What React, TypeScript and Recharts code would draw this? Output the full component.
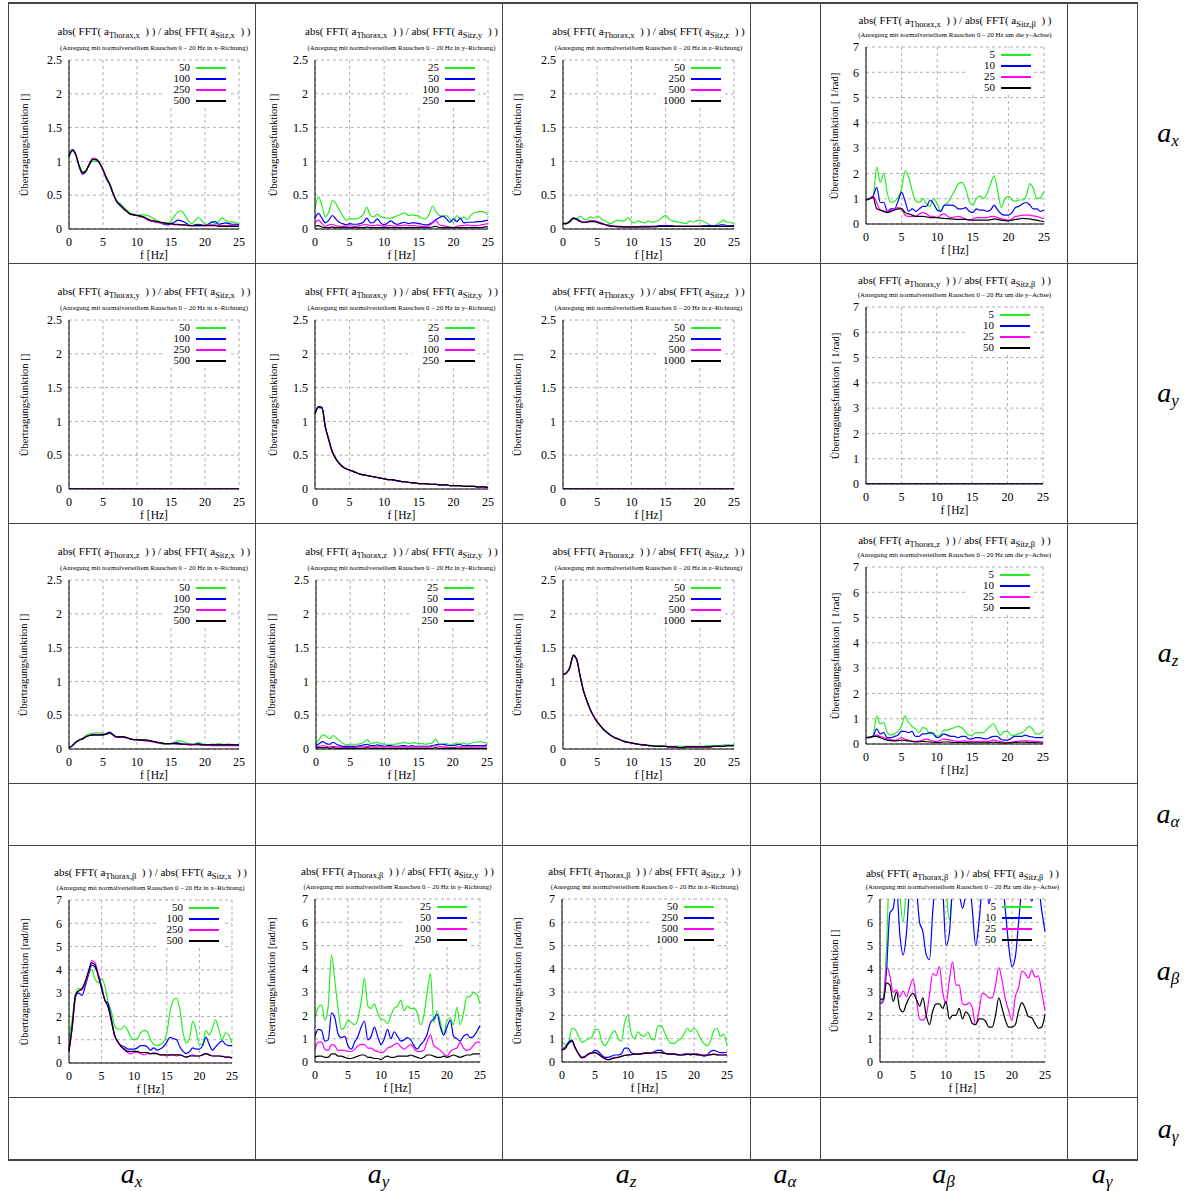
import React from "react";
import { CartesianGrid, Line, LineChart, XAxis, YAxis } from "recharts";

// frequency axis, 0..25 Hz
const freq = [
  0, 0.5, 1, 1.5, 2, 2.5, 3, 3.5, 4, 4.5,
  5, 5.5, 6, 6.5, 7, 7.5, 8, 8.5, 9, 9.5,
  10, 10.5, 11, 11.5, 12, 12.5, 13, 13.5, 14, 14.5,
  15, 15.5, 16, 16.5, 17, 17.5, 18, 18.5, 19, 19.5,
  20, 20.5, 21, 21.5, 22, 22.5, 23, 23.5, 24, 24.5,
  25
];

const zeros = [
  0, 0, 0, 0, 0, 0, 0, 0, 0, 0,
  0, 0, 0, 0, 0, 0, 0, 0, 0, 0,
  0, 0, 0, 0, 0, 0, 0, 0, 0, 0,
  0, 0, 0, 0, 0, 0, 0, 0, 0, 0,
  0, 0, 0, 0, 0, 0, 0, 0, 0, 0,
  0
];

// legend levels
const levelsX = ["50", "100", "250", "500"];
const levelsY = ["25", "50", "100", "250"];
const levelsZ = ["50", "250", "500", "1000"];
const levelsB = ["5", "10", "25", "50"];

const xTicks = [0, 5, 10, 15, 20, 25];
const yTicksSmall = [0, 0.5, 1, 1.5, 2, 2.5];
const yTicksBig = [0, 1, 2, 3, 4, 5, 6, 7];

// Thorax x / Sitz x
const tx_sx_50 = [
  1.05, 1.15, 1.10, 0.95, 0.85, 0.87, 0.95, 1.00, 1.00, 0.97,
  0.87, 0.73, 0.64, 0.52, 0.42, 0.38, 0.33, 0.28, 0.24, 0.22,
  0.21, 0.21, 0.21, 0.20, 0.18, 0.15, 0.12, 0.10, 0.09, 0.09,
  0.12, 0.19, 0.25, 0.27, 0.21, 0.13, 0.08, 0.12, 0.17, 0.13,
  0.07, 0.07, 0.11, 0.08, 0.11, 0.16, 0.13, 0.10, 0.11, 0.09,
  0.08
];
const tx_sx_100 = [
  1.09, 1.17, 1.10, 0.92, 0.81, 0.85, 0.96, 1.03, 1.02, 0.97,
  0.87, 0.75, 0.66, 0.52, 0.41, 0.36, 0.31, 0.26, 0.22, 0.21,
  0.20, 0.19, 0.17, 0.14, 0.12, 0.11, 0.10, 0.09, 0.07, 0.06,
  0.08, 0.10, 0.13, 0.12, 0.10, 0.07, 0.05, 0.06, 0.07, 0.06,
  0.05, 0.07, 0.10, 0.11, 0.07, 0.08, 0.09, 0.08, 0.07, 0.07,
  0.06
];
const tx_sx_250 = [
  1.08, 1.17, 1.09, 0.93, 0.82, 0.86, 0.97, 1.05, 1.04, 0.98,
  0.87, 0.75, 0.67, 0.53, 0.40, 0.35, 0.31, 0.26, 0.22, 0.21,
  0.20, 0.18, 0.17, 0.14, 0.12, 0.11, 0.10, 0.09, 0.08, 0.08,
  0.07, 0.06, 0.06, 0.06, 0.06, 0.06, 0.05, 0.05, 0.05, 0.05,
  0.06, 0.06, 0.06, 0.06, 0.05, 0.05, 0.05, 0.05, 0.05, 0.05,
  0.05
];
const tx_sx_500 = [
  1.08, 1.17, 1.10, 0.93, 0.83, 0.86, 0.96, 1.03, 1.03, 0.98,
  0.88, 0.76, 0.66, 0.52, 0.41, 0.35, 0.30, 0.26, 0.22, 0.21,
  0.20, 0.19, 0.18, 0.15, 0.13, 0.12, 0.11, 0.10, 0.09, 0.08,
  0.08, 0.07, 0.07, 0.06, 0.06, 0.05, 0.05, 0.05, 0.05, 0.05,
  0.05, 0.05, 0.05, 0.05, 0.04, 0.04, 0.04, 0.04, 0.04, 0.04,
  0.04
];

// Thorax x / Sitz y
const tx_sy_25 = [
  0.30, 0.48, 0.35, 0.18, 0.25, 0.42, 0.38, 0.28, 0.20, 0.13,
  0.15, 0.15, 0.15, 0.17, 0.22, 0.32, 0.20, 0.18, 0.22, 0.18,
  0.17, 0.16, 0.16, 0.18, 0.20, 0.22, 0.24, 0.20, 0.21, 0.20,
  0.19, 0.16, 0.15, 0.22, 0.34, 0.25, 0.20, 0.19, 0.20, 0.14,
  0.10, 0.20, 0.15, 0.18, 0.14, 0.20, 0.24, 0.25, 0.26, 0.25,
  0.21
];
const tx_sy_50 = [
  0.16, 0.23, 0.16, 0.09, 0.13, 0.20, 0.15, 0.10, 0.08, 0.06,
  0.08, 0.07, 0.07, 0.08, 0.10, 0.16, 0.09, 0.10, 0.15, 0.09,
  0.06, 0.09, 0.12, 0.08, 0.07, 0.09, 0.10, 0.08, 0.09, 0.09,
  0.08, 0.07, 0.06, 0.07, 0.10, 0.14, 0.17, 0.19, 0.15, 0.10,
  0.15, 0.11, 0.16, 0.09, 0.10, 0.10, 0.10, 0.11, 0.11, 0.12,
  0.13
];
const tx_sy_100 = [
  0.10, 0.13, 0.08, 0.04, 0.06, 0.07, 0.05, 0.04, 0.04, 0.04,
  0.05, 0.04, 0.04, 0.05, 0.06, 0.07, 0.05, 0.05, 0.06, 0.05,
  0.04, 0.05, 0.05, 0.04, 0.05, 0.05, 0.06, 0.05, 0.05, 0.05,
  0.04, 0.04, 0.04, 0.05, 0.09, 0.12, 0.06, 0.05, 0.04, 0.03,
  0.02, 0.04, 0.05, 0.05, 0.06, 0.05, 0.05, 0.05, 0.06, 0.07,
  0.08
];
const tx_sy_250 = [
  0.04, 0.05, 0.03, 0.02, 0.02, 0.03, 0.02, 0.02, 0.02, 0.02,
  0.02, 0.02, 0.02, 0.02, 0.02, 0.03, 0.02, 0.02, 0.02, 0.02,
  0.02, 0.02, 0.02, 0.02, 0.02, 0.02, 0.02, 0.02, 0.02, 0.02,
  0.02, 0.02, 0.02, 0.02, 0.03, 0.04, 0.02, 0.02, 0.02, 0.02,
  0.02, 0.02, 0.02, 0.02, 0.02, 0.02, 0.02, 0.02, 0.02, 0.03,
  0.03
];

// Thorax x / Sitz z
const tx_sz_50 = [
  0.09, 0.09, 0.10, 0.15, 0.15, 0.19, 0.15, 0.14, 0.18, 0.16,
  0.19, 0.16, 0.13, 0.10, 0.08, 0.11, 0.13, 0.12, 0.12, 0.17,
  0.11, 0.09, 0.12, 0.10, 0.09, 0.12, 0.10, 0.11, 0.13, 0.17,
  0.20, 0.15, 0.12, 0.11, 0.10, 0.09, 0.08, 0.12, 0.10, 0.12,
  0.13, 0.11, 0.09, 0.06, 0.04, 0.07, 0.10, 0.13, 0.10, 0.10,
  0.07
];
const tx_sz_250 = [
  0.08, 0.08, 0.12, 0.16, 0.15, 0.12, 0.10, 0.11, 0.12, 0.12,
  0.11, 0.09, 0.07, 0.06, 0.05, 0.04, 0.04, 0.04, 0.03, 0.03,
  0.03, 0.03, 0.03, 0.04, 0.04, 0.04, 0.04, 0.04, 0.05, 0.05,
  0.05, 0.05, 0.05, 0.04, 0.04, 0.04, 0.04, 0.04, 0.04, 0.04,
  0.04, 0.05, 0.05, 0.05, 0.05, 0.05, 0.06, 0.06, 0.05, 0.05,
  0.05
];
const tx_sz_500 = [
  0.08, 0.08, 0.12, 0.16, 0.14, 0.11, 0.10, 0.11, 0.12, 0.12,
  0.11, 0.09, 0.07, 0.06, 0.05, 0.04, 0.04, 0.03, 0.03, 0.03,
  0.03, 0.03, 0.03, 0.03, 0.03, 0.03, 0.04, 0.04, 0.04, 0.04,
  0.04, 0.04, 0.04, 0.04, 0.04, 0.04, 0.04, 0.04, 0.04, 0.04,
  0.04, 0.04, 0.04, 0.04, 0.04, 0.04, 0.04, 0.04, 0.04, 0.04,
  0.04
];
const tx_sz_1000 = [
  0.08, 0.08, 0.11, 0.16, 0.14, 0.11, 0.10, 0.10, 0.11, 0.11,
  0.10, 0.08, 0.07, 0.05, 0.04, 0.04, 0.03, 0.03, 0.03, 0.03,
  0.03, 0.03, 0.03, 0.03, 0.03, 0.03, 0.03, 0.03, 0.04, 0.04,
  0.04, 0.04, 0.04, 0.04, 0.04, 0.04, 0.04, 0.04, 0.04, 0.04,
  0.04, 0.04, 0.04, 0.04, 0.04, 0.04, 0.04, 0.04, 0.04, 0.04,
  0.04
];

// Thorax x / Sitz beta
const tx_sb_5 = [
  0.95, 1.00, 1.10, 2.25, 1.65, 2.00, 1.20, 0.85, 0.90, 1.05,
  1.40, 2.10, 1.85, 1.30, 0.90, 0.85, 1.00, 0.80, 0.70, 1.00,
  0.80, 0.50, 0.75, 0.85, 1.10, 1.35, 1.60, 1.65, 1.40, 0.90,
  0.75, 1.00, 1.10, 1.00, 1.20, 1.60, 1.90, 1.30, 0.65, 1.00,
  1.10, 0.95, 0.90, 0.95, 0.95, 1.10, 1.60, 1.40, 1.00, 1.05,
  1.30
];
const tx_sb_10 = [
  0.95, 1.00, 1.10, 1.45, 0.85, 0.85, 0.50, 0.60, 0.60, 0.90,
  1.25, 0.90, 0.50, 0.60, 0.50, 0.60, 0.70, 0.70, 0.95, 0.80,
  0.55, 0.50, 0.75, 0.75, 0.75, 0.70, 0.60, 0.60, 0.65, 0.50,
  0.45, 0.60, 0.55, 0.55, 0.50, 0.55, 0.75, 0.55, 0.40, 0.35,
  0.35, 0.45, 0.65, 0.70, 0.80, 0.85, 0.75, 0.60, 0.60, 0.50,
  0.55
];
const tx_sb_25 = [
  0.95, 1.00, 1.10, 0.85, 0.55, 0.50, 0.50, 0.55, 0.60, 0.65,
  0.60, 0.35, 0.30, 0.30, 0.30, 0.40, 0.45, 0.40, 0.30, 0.30,
  0.25, 0.35, 0.40, 0.30, 0.25, 0.28, 0.30, 0.25, 0.20, 0.15,
  0.20, 0.25, 0.25, 0.25, 0.25, 0.30, 0.30, 0.25, 0.20, 0.18,
  0.15, 0.20, 0.30, 0.32, 0.35, 0.35, 0.35, 0.32, 0.30, 0.25,
  0.20
];
const tx_sb_50 = [
  0.95, 1.00, 1.05, 0.60, 0.55, 0.50, 0.45, 0.50, 0.55, 0.60,
  0.60, 0.45, 0.40, 0.35, 0.30, 0.30, 0.30, 0.28, 0.25, 0.25,
  0.25, 0.23, 0.22, 0.21, 0.20, 0.19, 0.18, 0.18, 0.18, 0.16,
  0.15, 0.15, 0.15, 0.15, 0.15, 0.17, 0.20, 0.18, 0.15, 0.13,
  0.12, 0.15, 0.18, 0.20, 0.22, 0.21, 0.20, 0.17, 0.15, 0.12,
  0.10
];

// Thorax y / Sitz y
const ty_sy_25 = [
  1.10, 1.20, 1.19, 0.91, 0.72, 0.55, 0.45, 0.38, 0.33, 0.30,
  0.28, 0.26, 0.24, 0.22, 0.21, 0.20, 0.19, 0.18, 0.17, 0.16,
  0.15, 0.14, 0.14, 0.13, 0.12, 0.11, 0.11, 0.10, 0.09, 0.09,
  0.08, 0.08, 0.08, 0.07, 0.07, 0.07, 0.06, 0.06, 0.06, 0.05,
  0.05, 0.05, 0.05, 0.04, 0.04, 0.04, 0.04, 0.03, 0.03, 0.03,
  0.02
];
const ty_sy_50 = [
  1.11, 1.21, 1.20, 0.91, 0.72, 0.55, 0.45, 0.38, 0.33, 0.30,
  0.28, 0.26, 0.24, 0.22, 0.21, 0.20, 0.19, 0.18, 0.17, 0.16,
  0.15, 0.14, 0.14, 0.13, 0.12, 0.11, 0.11, 0.10, 0.09, 0.09,
  0.08, 0.08, 0.08, 0.07, 0.07, 0.07, 0.06, 0.06, 0.06, 0.05,
  0.05, 0.05, 0.05, 0.04, 0.04, 0.04, 0.04, 0.03, 0.03, 0.03,
  0.02
];
const ty_sy_100 = [
  1.11, 1.22, 1.21, 0.92, 0.72, 0.55, 0.45, 0.38, 0.33, 0.30,
  0.28, 0.26, 0.24, 0.22, 0.21, 0.20, 0.19, 0.18, 0.17, 0.16,
  0.15, 0.14, 0.14, 0.13, 0.12, 0.11, 0.11, 0.10, 0.09, 0.09,
  0.08, 0.08, 0.08, 0.07, 0.07, 0.07, 0.06, 0.06, 0.06, 0.05,
  0.05, 0.05, 0.05, 0.04, 0.04, 0.04, 0.04, 0.03, 0.03, 0.03,
  0.02
];
const ty_sy_250 = [
  1.12, 1.22, 1.21, 0.92, 0.73, 0.55, 0.45, 0.38, 0.33, 0.30,
  0.28, 0.26, 0.24, 0.22, 0.21, 0.20, 0.19, 0.18, 0.17, 0.16,
  0.15, 0.14, 0.14, 0.13, 0.12, 0.11, 0.11, 0.10, 0.09, 0.09,
  0.08, 0.08, 0.08, 0.07, 0.07, 0.07, 0.06, 0.06, 0.06, 0.05,
  0.05, 0.05, 0.05, 0.04, 0.04, 0.04, 0.04, 0.03, 0.03, 0.03,
  0.02
];

// Thorax z / Sitz x
const tz_sx_50 = [
  0.02, 0.05, 0.10, 0.14, 0.16, 0.20, 0.22, 0.23, 0.24, 0.24,
  0.23, 0.22, 0.23, 0.20, 0.18, 0.18, 0.18, 0.16, 0.15, 0.14,
  0.14, 0.14, 0.14, 0.13, 0.12, 0.10, 0.09, 0.08, 0.07, 0.07,
  0.08, 0.10, 0.12, 0.12, 0.10, 0.08, 0.07, 0.07, 0.10, 0.08,
  0.06, 0.06, 0.07, 0.07, 0.08, 0.07, 0.07, 0.07, 0.07, 0.06,
  0.06
];
const tz_sx_100 = [
  0.02, 0.05, 0.10, 0.13, 0.15, 0.18, 0.20, 0.21, 0.21, 0.21,
  0.21, 0.23, 0.25, 0.21, 0.18, 0.18, 0.18, 0.17, 0.15, 0.14,
  0.14, 0.13, 0.13, 0.12, 0.12, 0.11, 0.10, 0.09, 0.08, 0.08,
  0.08, 0.09, 0.09, 0.08, 0.07, 0.07, 0.06, 0.07, 0.08, 0.07,
  0.06, 0.06, 0.07, 0.06, 0.06, 0.06, 0.06, 0.07, 0.06, 0.06,
  0.06
];
const tz_sx_250 = [
  0.02, 0.05, 0.10, 0.13, 0.15, 0.18, 0.20, 0.21, 0.21, 0.21,
  0.21, 0.22, 0.24, 0.20, 0.17, 0.17, 0.17, 0.16, 0.15, 0.14,
  0.13, 0.13, 0.12, 0.12, 0.11, 0.10, 0.09, 0.09, 0.08, 0.08,
  0.08, 0.08, 0.07, 0.07, 0.07, 0.06, 0.06, 0.06, 0.06, 0.06,
  0.06, 0.06, 0.05, 0.05, 0.05, 0.05, 0.05, 0.05, 0.05, 0.05,
  0.05
];
const tz_sx_500 = [
  0.02, 0.05, 0.10, 0.13, 0.15, 0.18, 0.20, 0.21, 0.21, 0.21,
  0.21, 0.22, 0.24, 0.21, 0.18, 0.18, 0.18, 0.17, 0.15, 0.14,
  0.14, 0.13, 0.13, 0.13, 0.12, 0.11, 0.10, 0.09, 0.08, 0.08,
  0.08, 0.08, 0.08, 0.07, 0.07, 0.07, 0.07, 0.07, 0.07, 0.06,
  0.06, 0.06, 0.06, 0.06, 0.06, 0.06, 0.06, 0.06, 0.06, 0.06,
  0.05
];

// Thorax z / Sitz y
const tz_sy_25 = [
  0.08, 0.15, 0.21, 0.19, 0.15, 0.20, 0.16, 0.12, 0.08, 0.06,
  0.07, 0.07, 0.07, 0.08, 0.10, 0.14, 0.08, 0.09, 0.10, 0.08,
  0.07, 0.07, 0.07, 0.07, 0.08, 0.09, 0.10, 0.08, 0.09, 0.09,
  0.08, 0.08, 0.07, 0.08, 0.09, 0.15, 0.07, 0.07, 0.08, 0.07,
  0.06, 0.09, 0.07, 0.09, 0.07, 0.08, 0.10, 0.10, 0.11, 0.10,
  0.09
];
const tz_sy_50 = [
  0.05, 0.08, 0.11, 0.08, 0.07, 0.10, 0.07, 0.05, 0.04, 0.04,
  0.04, 0.04, 0.04, 0.05, 0.06, 0.07, 0.05, 0.05, 0.06, 0.05,
  0.04, 0.05, 0.05, 0.04, 0.04, 0.05, 0.05, 0.04, 0.05, 0.04,
  0.04, 0.04, 0.04, 0.04, 0.05, 0.06, 0.07, 0.07, 0.06, 0.05,
  0.05, 0.06, 0.07, 0.05, 0.05, 0.05, 0.05, 0.05, 0.05, 0.05,
  0.06
];
const tz_sy_100 = [
  0.03, 0.04, 0.05, 0.04, 0.03, 0.04, 0.03, 0.03, 0.02, 0.02,
  0.02, 0.02, 0.03, 0.03, 0.03, 0.04, 0.03, 0.03, 0.03, 0.03,
  0.03, 0.03, 0.03, 0.03, 0.03, 0.03, 0.03, 0.03, 0.03, 0.03,
  0.03, 0.03, 0.03, 0.03, 0.04, 0.05, 0.04, 0.03, 0.03, 0.02,
  0.02, 0.03, 0.03, 0.03, 0.03, 0.03, 0.03, 0.03, 0.03, 0.03,
  0.04
];
const tz_sy_250 = [
  0.02, 0.02, 0.02, 0.02, 0.01, 0.02, 0.01, 0.01, 0.01, 0.01,
  0.01, 0.01, 0.01, 0.01, 0.01, 0.02, 0.01, 0.01, 0.01, 0.01,
  0.01, 0.01, 0.01, 0.01, 0.01, 0.01, 0.01, 0.01, 0.01, 0.01,
  0.01, 0.01, 0.01, 0.01, 0.01, 0.02, 0.01, 0.01, 0.01, 0.01,
  0.01, 0.01, 0.01, 0.01, 0.01, 0.01, 0.01, 0.01, 0.01, 0.01,
  0.01
];

// Thorax z / Sitz z
const tz_sz_50 = [
  1.10, 1.12, 1.20, 1.37, 1.32, 1.08, 0.86, 0.71, 0.58, 0.48,
  0.40, 0.34, 0.29, 0.24, 0.20, 0.17, 0.15, 0.13, 0.12, 0.10,
  0.09, 0.08, 0.08, 0.07, 0.06, 0.06, 0.05, 0.05, 0.05, 0.05,
  0.04, 0.04, 0.04, 0.04, 0.04, 0.04, 0.04, 0.04, 0.04, 0.04,
  0.04, 0.04, 0.05, 0.05, 0.05, 0.05, 0.05, 0.06, 0.06, 0.06,
  0.06
];
const tz_sz_250 = [
  1.10, 1.12, 1.20, 1.38, 1.32, 1.08, 0.86, 0.71, 0.58, 0.48,
  0.40, 0.34, 0.28, 0.24, 0.20, 0.17, 0.15, 0.13, 0.11, 0.10,
  0.09, 0.08, 0.07, 0.06, 0.06, 0.05, 0.05, 0.04, 0.04, 0.04,
  0.04, 0.03, 0.03, 0.03, 0.02, 0.02, 0.03, 0.03, 0.03, 0.03,
  0.03, 0.03, 0.03, 0.03, 0.04, 0.04, 0.04, 0.04, 0.05, 0.05,
  0.05
];
const tz_sz_500 = [
  1.10, 1.12, 1.20, 1.39, 1.32, 1.08, 0.86, 0.71, 0.58, 0.48,
  0.40, 0.34, 0.28, 0.24, 0.20, 0.17, 0.15, 0.13, 0.11, 0.10,
  0.09, 0.08, 0.07, 0.06, 0.06, 0.05, 0.05, 0.04, 0.04, 0.04,
  0.04, 0.03, 0.03, 0.03, 0.02, 0.02, 0.03, 0.03, 0.03, 0.03,
  0.03, 0.03, 0.03, 0.03, 0.04, 0.04, 0.04, 0.04, 0.05, 0.05,
  0.05
];
const tz_sz_1000 = [
  1.10, 1.13, 1.21, 1.39, 1.33, 1.08, 0.86, 0.71, 0.58, 0.48,
  0.40, 0.34, 0.28, 0.24, 0.20, 0.17, 0.15, 0.13, 0.11, 0.10,
  0.09, 0.08, 0.07, 0.06, 0.06, 0.05, 0.05, 0.04, 0.04, 0.04,
  0.04, 0.03, 0.03, 0.03, 0.02, 0.02, 0.03, 0.03, 0.03, 0.03,
  0.03, 0.03, 0.03, 0.03, 0.04, 0.04, 0.04, 0.04, 0.05, 0.05,
  0.05
];

// Thorax z / Sitz beta
const tz_sb_5 = [
  0.25, 0.25, 0.35, 1.10, 0.80, 0.85, 0.45, 0.35, 0.40, 0.50,
  0.70, 1.10, 0.85, 0.70, 0.60, 0.45, 0.65, 0.60, 0.40, 0.45,
  0.30, 0.35, 0.55, 0.55, 0.60, 0.65, 0.70, 0.65, 0.50, 0.35,
  0.35, 0.45, 0.45, 0.45, 0.55, 0.70, 0.80, 0.55, 0.35, 0.50,
  0.50, 0.35, 0.35, 0.40, 0.45, 0.55, 0.70, 0.60, 0.40, 0.40,
  0.50
];
const tz_sb_10 = [
  0.25, 0.25, 0.30, 0.60, 0.40, 0.45, 0.25, 0.25, 0.30, 0.35,
  0.50, 0.50, 0.45, 0.50, 0.30, 0.30, 0.40, 0.40, 0.45, 0.40,
  0.25, 0.30, 0.40, 0.35, 0.30, 0.30, 0.25, 0.30, 0.30, 0.20,
  0.20, 0.25, 0.25, 0.22, 0.20, 0.25, 0.30, 0.30, 0.20, 0.15,
  0.15, 0.22, 0.30, 0.30, 0.30, 0.35, 0.30, 0.28, 0.25, 0.25,
  0.25
];
const tz_sb_25 = [
  0.25, 0.27, 0.30, 0.35, 0.30, 0.25, 0.20, 0.17, 0.15, 0.18,
  0.25, 0.20, 0.15, 0.12, 0.10, 0.12, 0.15, 0.20, 0.15, 0.12,
  0.10, 0.15, 0.20, 0.17, 0.15, 0.12, 0.10, 0.11, 0.12, 0.10,
  0.10, 0.10, 0.10, 0.10, 0.10, 0.12, 0.15, 0.12, 0.10, 0.07,
  0.05, 0.07, 0.10, 0.11, 0.12, 0.12, 0.12, 0.11, 0.10, 0.09,
  0.08
];
const tz_sb_50 = [
  0.25, 0.27, 0.30, 0.30, 0.25, 0.20, 0.15, 0.13, 0.12, 0.13,
  0.15, 0.14, 0.12, 0.10, 0.08, 0.09, 0.10, 0.09, 0.08, 0.07,
  0.06, 0.07, 0.08, 0.08, 0.07, 0.06, 0.06, 0.06, 0.06, 0.05,
  0.05, 0.05, 0.05, 0.05, 0.05, 0.06, 0.07, 0.06, 0.05, 0.04,
  0.04, 0.05, 0.06, 0.07, 0.07, 0.07, 0.06, 0.06, 0.05, 0.05,
  0.04
];

// Thorax beta / Sitz x
const tb_sx_50 = [
  1.10, 1.90, 3.00, 3.20, 3.20, 3.50, 3.85, 4.00, 3.60, 3.45,
  3.65, 3.30, 2.60, 2.20, 1.60, 1.45, 1.45, 1.60, 1.40, 1.10,
  1.00, 1.05, 1.30, 1.40, 1.35, 1.00, 0.80, 0.75, 0.80, 0.90,
  1.30, 2.20, 2.70, 2.80, 2.30, 1.30, 0.85, 1.10, 1.80, 1.40,
  0.80, 0.80, 1.40, 1.20, 1.50, 1.85, 1.40, 1.00, 1.30, 1.20,
  0.85
];
const tb_sx_100 = [
  0.60, 1.60, 2.90, 3.00, 2.90, 3.30, 3.80, 4.20, 4.10, 3.80,
  3.30, 2.70, 2.55, 1.90, 1.20, 0.90, 0.75, 0.70, 0.60, 0.60,
  0.60, 0.65, 0.75, 0.75, 0.70, 0.55, 0.65, 0.55, 0.60, 0.70,
  0.90, 1.10, 1.05, 1.00, 0.70, 0.50, 0.40, 0.50, 0.65, 0.60,
  0.60, 0.75, 1.10, 0.80, 0.55, 0.70, 0.85, 0.95, 0.80, 0.75,
  0.75
];
const tb_sx_250 = [
  0.50, 1.50, 2.80, 3.10, 3.15, 3.40, 3.90, 4.40, 4.30, 3.80,
  3.20, 2.70, 2.40, 1.80, 1.15, 0.90, 0.70, 0.55, 0.45, 0.40,
  0.45, 0.45, 0.40, 0.35, 0.40, 0.40, 0.45, 0.40, 0.35, 0.35,
  0.30, 0.35, 0.35, 0.30, 0.35, 0.30, 0.25, 0.30, 0.35, 0.30,
  0.30, 0.35, 0.40, 0.35, 0.30, 0.30, 0.30, 0.30, 0.25, 0.25,
  0.20
];
const tb_sx_500 = [
  0.50, 1.60, 2.90, 3.10, 3.20, 3.50, 3.95, 4.30, 4.20, 3.70,
  3.20, 2.70, 2.40, 1.80, 1.20, 0.90, 0.70, 0.60, 0.50, 0.50,
  0.50, 0.50, 0.45, 0.45, 0.45, 0.40, 0.40, 0.40, 0.35, 0.35,
  0.35, 0.35, 0.35, 0.35, 0.35, 0.30, 0.25, 0.30, 0.30, 0.30,
  0.30, 0.35, 0.40, 0.35, 0.30, 0.30, 0.30, 0.28, 0.25, 0.25,
  0.22
];

// Thorax beta / Sitz y
const tb_sy_25 = [
  1.90, 2.35, 2.45, 1.80, 2.40, 4.60, 3.50, 2.30, 1.40, 1.50,
  1.80, 1.70, 1.60, 1.85, 2.60, 3.60, 2.40, 2.30, 2.50, 2.10,
  1.85, 1.80, 1.65, 2.00, 2.30, 2.40, 2.65, 2.20, 2.40, 2.30,
  2.30, 2.10, 1.60, 2.00, 3.00, 3.80, 1.70, 2.20, 1.70, 1.20,
  1.80, 1.90, 1.60, 2.35, 1.60, 2.10, 2.80, 2.80, 3.00, 2.90,
  2.50
];
const tb_sy_50 = [
  1.10, 1.40, 1.35, 0.90, 0.95, 2.10, 1.90, 1.20, 1.05, 1.10,
  0.70, 0.55, 0.85, 1.10, 1.50, 1.75, 0.95, 1.10, 1.50, 1.10,
  0.75, 1.00, 1.40, 1.00, 1.30, 1.10, 0.90, 0.95, 1.05, 0.95,
  0.70, 0.55, 0.75, 0.90, 1.20, 1.70, 1.85, 2.05, 1.50, 1.15,
  1.50, 1.80, 1.10, 1.00, 0.90, 1.10, 1.20, 1.05, 1.10, 1.30,
  1.55
];
const tb_sy_100 = [
  0.55, 0.85, 0.85, 0.55, 0.50, 0.75, 0.70, 0.50, 0.50, 0.50,
  0.45, 0.45, 0.55, 0.70, 0.75, 0.75, 0.60, 0.60, 0.50, 0.45,
  0.40, 0.45, 0.60, 0.65, 0.75, 0.80, 0.65, 0.55, 0.65, 0.75,
  0.60, 0.45, 0.45, 0.50, 0.90, 1.15, 0.70, 0.60, 0.50, 0.35,
  0.25, 0.45, 0.55, 0.60, 0.85, 0.60, 0.50, 0.55, 0.70, 0.85,
  0.85
];
const tb_sy_250 = [
  0.20, 0.25, 0.25, 0.20, 0.20, 0.35, 0.35, 0.25, 0.25, 0.20,
  0.15, 0.15, 0.20, 0.25, 0.30, 0.30, 0.20, 0.20, 0.15, 0.15,
  0.10, 0.20, 0.25, 0.20, 0.20, 0.25, 0.25, 0.25, 0.25, 0.30,
  0.25, 0.20, 0.15, 0.20, 0.30, 0.30, 0.25, 0.20, 0.20, 0.25,
  0.20, 0.25, 0.30, 0.25, 0.20, 0.25, 0.30, 0.30, 0.35, 0.35,
  0.35
];

// Thorax beta / Sitz z
const tb_sz_50 = [
  0.90, 0.75, 0.85, 1.45, 1.40, 1.10, 0.85, 0.90, 1.00, 1.05,
  1.40, 1.40, 0.90, 0.70, 0.90, 1.20, 1.35, 1.00, 0.90, 1.70,
  2.00, 1.20, 1.00, 1.30, 1.15, 1.10, 1.30, 1.00, 0.95, 1.55,
  1.55, 1.30, 1.00, 0.80, 0.80, 0.90, 1.00, 1.20, 1.45, 1.30,
  1.45, 1.30, 1.00, 0.80, 0.70, 0.90, 1.35, 1.45, 1.10, 1.20,
  0.70
];
const tb_sz_250 = [
  0.55, 0.65, 0.85, 0.95, 0.60, 0.35, 0.20, 0.25, 0.35, 0.40,
  0.50, 0.45, 0.30, 0.20, 0.20, 0.25, 0.30, 0.30, 0.35, 0.60,
  0.60, 0.40, 0.35, 0.35, 0.35, 0.40, 0.40, 0.40, 0.45, 0.50,
  0.50, 0.40, 0.35, 0.35, 0.35, 0.30, 0.30, 0.35, 0.35, 0.30,
  0.35, 0.35, 0.30, 0.25, 0.30, 0.45, 0.50, 0.45, 0.40, 0.40,
  0.42
];
const tb_sz_500 = [
  0.55, 0.60, 0.80, 0.90, 0.60, 0.35, 0.20, 0.25, 0.35, 0.40,
  0.40, 0.35, 0.25, 0.15, 0.10, 0.15, 0.20, 0.20, 0.25, 0.30,
  0.30, 0.32, 0.35, 0.35, 0.35, 0.38, 0.40, 0.40, 0.40, 0.40,
  0.40, 0.38, 0.35, 0.35, 0.35, 0.32, 0.30, 0.32, 0.35, 0.35,
  0.35, 0.32, 0.30, 0.30, 0.30, 0.32, 0.35, 0.32, 0.30, 0.30,
  0.32
];
const tb_sz_1000 = [
  0.52, 0.58, 0.80, 0.90, 0.62, 0.35, 0.18, 0.22, 0.33, 0.38,
  0.40, 0.33, 0.23, 0.14, 0.10, 0.13, 0.18, 0.20, 0.24, 0.28,
  0.30, 0.32, 0.34, 0.34, 0.35, 0.37, 0.38, 0.38, 0.39, 0.40,
  0.40, 0.37, 0.35, 0.34, 0.34, 0.32, 0.30, 0.31, 0.33, 0.33,
  0.33, 0.31, 0.30, 0.29, 0.29, 0.31, 0.33, 0.31, 0.30, 0.30,
  0.31
];

// Thorax beta / Sitz beta (5 and 10 run off the top of the plot)
const tb_sb_5 = [
  2.60, 2.70, 5.00, 9.00, 10.0, 9.00, 7.20, 6.00, 7.50, 9.00,
  10.0, 9.50, 9.00, 9.50, 10.0, 9.50, 9.00, 9.50, 10.0, 8.50,
  7.50, 6.10, 7.50, 9.00, 10.0, 9.50, 9.00, 9.50, 10.0, 9.50,
  9.00, 9.50, 10.0, 9.50, 9.00, 9.50, 10.0, 9.50, 9.00, 9.50,
  10.0, 9.50, 9.00, 9.50, 10.0, 9.50, 9.00, 9.50, 10.0, 9.50,
  9.00
];
const tb_sb_10 = [
  2.50, 2.60, 4.00, 6.40, 6.60, 7.50, 5.50, 4.60, 5.50, 7.50,
  8.00, 7.50, 6.00, 5.60, 4.60, 4.40, 6.50, 8.00, 8.50, 7.50,
  5.00, 5.50, 7.50, 8.00, 7.30, 6.60, 7.20, 7.80, 6.50, 5.00,
  6.00, 7.50, 7.80, 6.80, 7.50, 8.00, 8.00, 7.80, 6.50, 5.00,
  4.10, 4.50, 6.00, 7.50, 8.00, 7.50, 6.90, 7.50, 7.50, 6.50,
  5.60
];
const tb_sb_25 = [
  2.50, 2.60, 4.10, 3.70, 3.00, 3.10, 2.80, 3.05, 2.80, 3.20,
  3.55, 2.70, 1.85, 1.80, 2.00, 2.90, 3.80, 3.70, 4.10, 3.00,
  2.50, 3.50, 4.30, 3.30, 3.30, 2.50, 2.45, 2.55, 2.30, 1.60,
  2.20, 2.95, 2.90, 2.75, 2.75, 3.30, 4.05, 3.50, 2.70, 2.20,
  1.80, 2.80, 3.20, 3.90, 3.80, 3.60, 3.95, 3.65, 3.70, 3.00,
  2.20
];
const tb_sb_50 = [
  2.70, 2.70, 3.40, 3.30, 2.60, 3.00, 2.30, 2.15, 2.50, 2.80,
  2.95, 2.70, 2.40, 2.75, 2.00, 1.60, 2.20, 2.50, 2.50, 2.30,
  2.60, 1.85, 2.00, 2.00, 2.30, 1.85, 2.15, 2.00, 1.65, 1.60,
  1.85, 1.85, 1.75, 1.50, 1.50, 2.00, 2.75, 2.30, 1.80, 1.50,
  1.50, 1.60, 2.20, 2.55, 2.30, 1.95, 1.90, 1.65, 1.45, 1.50,
  2.05
];

const colors = ["#22ee22", "#0000ff", "#ff00ff", "#000000"];
const FONT = "'Liberation Serif', 'Times New Roman', serif";

const noteX = "(Anregung mit normalverteiltem Rauschen 0 \u2013 20 Hz in x\u2013Richtung)";
const noteY = "(Anregung mit normalverteiltem Rauschen 0 \u2013 20 Hz in y\u2013Richtung)";
const noteZ = "(Anregung mit normalverteiltem Rauschen 0 \u2013 20 Hz in z\u2013Richtung)";
const noteB = "(Anregung mit normalverteiltem Rauschen 0 \u2013 20 Hz um die y\u2013Achse)";

const labelPlain = "Übertragungsfunktion []";
const labelRad = "Übertragungsfunktion [ 1/rad]";
const labelRadM = "Übertragungsfunktion [rad/m]";

type Panel = {
  box: number[]; // plot area: left, top, right, bottom (page px)
  yMax: number;
  thorax: string;
  sitz: string;
  note: string;
  yLabel: string;
  levels: string[];
  series: number[][];
  labelGap: number;
  titleGap: number;
  keyBg?: boolean;
};

const panels: Panel[] = [
  { box: [69, 60, 239, 229], yMax: 2.5, thorax: "Thorax,x", sitz: "Sitz,x", note: noteX, yLabel: labelPlain, levels: levelsX, series: [tx_sx_50, tx_sx_100, tx_sx_250, tx_sx_500], labelGap: 44, titleGap: 29 },
  { box: [315, 60, 488, 229], yMax: 2.5, thorax: "Thorax,x", sitz: "Sitz,y", note: noteY, yLabel: labelPlain, levels: levelsY, series: [tx_sy_25, tx_sy_50, tx_sy_100, tx_sy_250], labelGap: 41, titleGap: 29 },
  { box: [563, 60, 734, 229], yMax: 2.5, thorax: "Thorax,x", sitz: "Sitz,z", note: noteZ, yLabel: labelPlain, levels: levelsZ, series: [tx_sz_50, tx_sz_250, tx_sz_500, tx_sz_1000], labelGap: 45, titleGap: 29 },
  { box: [866, 47, 1044, 224], yMax: 7, thorax: "Thorax,x", sitz: "Sitz,\u03b2", note: noteB, yLabel: labelRad, levels: levelsB, series: [tx_sb_5, tx_sb_10, tx_sb_25, tx_sb_50], labelGap: 31, titleGap: 27 },

  { box: [69, 320, 239, 489], yMax: 2.5, thorax: "Thorax,y", sitz: "Sitz,x", note: noteX, yLabel: labelPlain, levels: levelsX, series: [zeros, zeros, zeros, zeros], labelGap: 44, titleGap: 29 },
  { box: [315, 320, 488, 489], yMax: 2.5, thorax: "Thorax,y", sitz: "Sitz,y", note: noteY, yLabel: labelPlain, levels: levelsY, series: [ty_sy_25, ty_sy_50, ty_sy_100, ty_sy_250], labelGap: 41, titleGap: 29 },
  { box: [563, 320, 734, 489], yMax: 2.5, thorax: "Thorax,y", sitz: "Sitz,z", note: noteZ, yLabel: labelPlain, levels: levelsZ, series: [zeros, zeros, zeros, zeros], labelGap: 45, titleGap: 29 },
  { box: [866, 307, 1043, 484], yMax: 7, thorax: "Thorax,y", sitz: "Sitz,\u03b2", note: noteB, yLabel: labelRad, levels: levelsB, series: [zeros, zeros, zeros, zeros], labelGap: 30, titleGap: 27 },

  { box: [69, 580, 239, 749], yMax: 2.5, thorax: "Thorax,z", sitz: "Sitz,x", note: noteX, yLabel: labelPlain, levels: levelsX, series: [tz_sx_50, tz_sx_100, tz_sx_250, tz_sx_500], labelGap: 45, titleGap: 29 },
  { box: [316, 580, 487, 749], yMax: 2.5, thorax: "Thorax,z", sitz: "Sitz,y", note: noteY, yLabel: labelPlain, levels: levelsY, series: [tz_sy_25, tz_sy_50, tz_sy_100, tz_sy_250], labelGap: 44, titleGap: 29 },
  { box: [563, 580, 734, 749], yMax: 2.5, thorax: "Thorax,z", sitz: "Sitz,z", note: noteZ, yLabel: labelPlain, levels: levelsZ, series: [tz_sz_50, tz_sz_250, tz_sz_500, tz_sz_1000], labelGap: 45, titleGap: 29 },
  { box: [866, 567, 1043, 744], yMax: 7, thorax: "Thorax,z", sitz: "Sitz,\u03b2", note: noteB, yLabel: labelRad, levels: levelsB, series: [tz_sb_5, tz_sb_10, tz_sb_25, tz_sb_50], labelGap: 30, titleGap: 27 },

  { box: [69, 900, 232, 1063], yMax: 7, thorax: "Thorax,\u03b2", sitz: "Sitz,x", note: noteX, yLabel: labelRadM, levels: levelsX, series: [tb_sx_50, tb_sx_100, tb_sx_250, tb_sx_500], labelGap: 44, titleGap: 28 },
  { box: [315, 899, 480, 1062], yMax: 7, thorax: "Thorax,\u03b2", sitz: "Sitz,y", note: noteY, yLabel: labelRadM, levels: levelsY, series: [tb_sy_25, tb_sy_50, tb_sy_100, tb_sy_250], labelGap: 43, titleGap: 28 },
  { box: [562, 899, 727, 1062], yMax: 7, thorax: "Thorax,\u03b2", sitz: "Sitz,z", note: noteZ, yLabel: labelRadM, levels: levelsZ, series: [tb_sz_50, tb_sz_250, tb_sz_500, tb_sz_1000], labelGap: 44, titleGap: 28 },
  { box: [880, 899, 1045, 1062], yMax: 7, thorax: "Thorax,\u03b2", sitz: "Sitz,\u03b2", note: noteB, yLabel: labelPlain, levels: levelsB, series: [tb_sb_5, tb_sb_10, tb_sb_25, tb_sb_50], labelGap: 45, titleGap: 26, keyBg: false }
];

const ML = 46;
const MR = 12;
const MT = 9;
const MB = 34;

const abs: React.CSSProperties = { position: "absolute" };

function Sub({ children }: { children: React.ReactNode }) {
  return <span style={{ fontSize: 8.5, position: "relative", top: 3 }}>{children}</span>;
}

function Plot({ p }: { p: Panel }) {
  const [l, t, r, b] = p.box;
  const w = r - l;
  const h = b - t;
  const data = freq.map((f, i) => {
    const row: Record<string, number> = { f };
    p.series.forEach((s, j) => {
      row["s" + j] = s[i];
    });
    return row;
  });
  const yTicks = p.yMax === 7 ? yTicksBig : yTicksSmall;
  const tickStyle = { fontSize: 12, fill: "#000", fontFamily: FONT };
  const cx = (l + r) / 2;

  return (
    <>
      <div style={{ ...abs, left: cx, top: t - p.titleGap, transform: "translate(-50%, -50%)", whiteSpace: "pre", fontSize: 11, lineHeight: 1 }}>
        {"abs( FFT( a"}<Sub>{p.thorax}</Sub>{"  ) ) / abs( FFT( a"}<Sub>{p.sitz}</Sub>{"  ) )"}
      </div>
      <div style={{ ...abs, left: cx, top: t - 12, transform: "translate(-50%, -50%)", whiteSpace: "pre", fontSize: 6.8, lineHeight: 1 }}>
        {p.note}
      </div>
      <div style={{ ...abs, left: l - p.labelGap, top: (t + b) / 2, transform: "translate(-50%, -50%) rotate(-90deg)", whiteSpace: "pre", fontSize: 10.5, lineHeight: 1 }}>
        {p.yLabel}
      </div>
      <div style={{ ...abs, left: cx, top: b + 27, transform: "translate(-50%, -50%)", whiteSpace: "pre", fontSize: 11.5, lineHeight: 1 }}>
        f [Hz]
      </div>
      <div style={{ ...abs, left: l - ML, top: t - MT }}>
        <LineChart width={w + ML + MR} height={h + MT + MB} data={data} margin={{ top: MT, right: MR, left: 0, bottom: 0 }} style={{ fontFamily: FONT }}>
          <CartesianGrid stroke="#9a9a9a" strokeDasharray="3 3" strokeWidth={0.8} />
          <XAxis dataKey="f" type="number" domain={[0, 25]} ticks={xTicks} interval={0} height={MB} tickLine={false} tickSize={0} tickMargin={8} tick={tickStyle} axisLine={{ stroke: "#000" }} />
          <XAxis xAxisId="top" orientation="top" type="number" domain={[0, 25]} ticks={xTicks} height={0} tick={false} tickLine={false} axisLine={{ stroke: "#000" }} />
          <YAxis type="number" domain={[0, p.yMax]} ticks={yTicks} interval={0} width={ML} allowDataOverflow tickLine={false} tickSize={0} tickMargin={7} tick={tickStyle} axisLine={{ stroke: "#000" }} />
          <YAxis yAxisId="right" orientation="right" type="number" domain={[0, p.yMax]} ticks={yTicks} width={0} tick={false} tickLine={false} axisLine={{ stroke: "#000" }} />
          {p.series.map((_, j) => (
            <Line key={j} dataKey={"s" + j} type="monotone" stroke={colors[j]} strokeWidth={1.2} dot={false} activeDot={false} isAnimationActive={false} />
          ))}
        </LineChart>
      </div>
      <div style={{ ...abs, left: r - 76, top: t + 1, width: 66, height: 46, background: p.keyBg === false ? "transparent" : "#fff" }}>
        {p.levels.map((lv, i) => (
          <React.Fragment key={lv}>
            <div style={{ ...abs, left: 0, top: 1 + i * 11, width: 27, height: 11, lineHeight: "11px", textAlign: "right", fontSize: 11 }}>
              {lv}
            </div>
            <div style={{ ...abs, left: 33, top: 6 + i * 11, width: 30, height: 1.5, background: colors[i] }} />
          </React.Fragment>
        ))}
      </div>
    </>
  );
}

const colLines = [8, 255, 502, 750, 820, 1067, 1137];
const rowLines = [3, 263, 523, 783, 845, 1097, 1160];

const sideLabels = ["x", "y", "z", "\u03b1", "\u03b2", "\u03b3"];

function MathA({ sub, style }: { sub: string; style: React.CSSProperties }) {
  return (
    <div style={{ ...abs, ...style, transform: "translate(-50%, -50%)", fontStyle: "italic", fontSize: 28, lineHeight: 1, whiteSpace: "pre" }}>
      a<span style={{ fontSize: 17, position: "relative", top: 4 }}>{sub}</span>
    </div>
  );
}

export default function App() {
  return (
    <div style={{ position: "absolute", left: 0, top: 0, width: 1199, height: 1191, background: "#fff", fontFamily: FONT, color: "#000", overflow: "hidden" }}>
      {colLines.map((x) => (
        <div key={"c" + x} style={{ ...abs, left: x, top: 3, width: 1, height: 1158, background: "#444" }} />
      ))}
      {rowLines.map((y, i) => (
        <div key={"r" + y} style={{ ...abs, left: 8, top: i === 0 || i === rowLines.length - 1 ? y - 1 : y, width: 1130, height: i === 0 || i === rowLines.length - 1 ? 2 : 1, background: "#444" }} />
      ))}
      {panels.map((p, i) => (
        <Plot key={i} p={p} />
      ))}
      {sideLabels.map((s, i) => (
        <MathA key={"s" + s} sub={s} style={{ left: 1168, top: (rowLines[i] + rowLines[i + 1]) / 2 }} />
      ))}
      {sideLabels.map((s, i) => (
        <MathA key={"b" + s} sub={s} style={{ left: (colLines[i] + colLines[i + 1]) / 2, top: 1174 }} />
      ))}
    </div>
  );
}
